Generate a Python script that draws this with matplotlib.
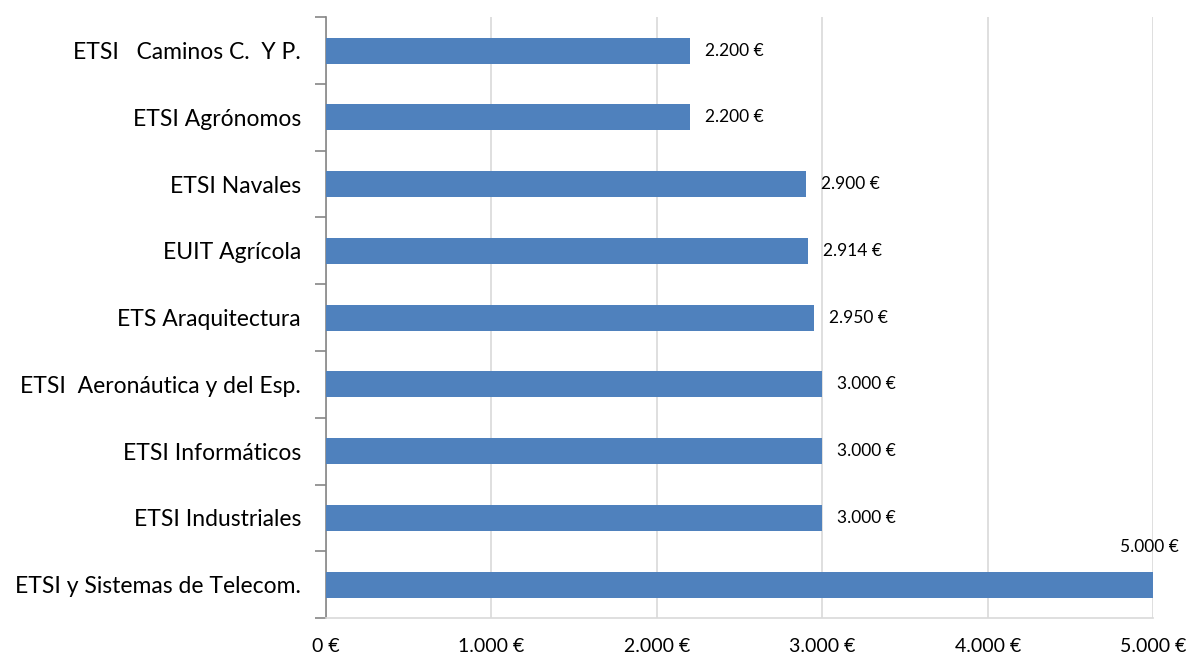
import matplotlib.pyplot as plt
from matplotlib.ticker import FixedLocator, FuncFormatter

# Categories listed top to bottom, as in the chart
schools = [
    "ETSI   Caminos C.  Y P.",
    "ETSI Agrónomos",
    "ETSI Navales",
    "EUIT Agrícola",
    "ETS Araquitectura",
    "ETSI  Aeronáutica y del Esp.",
    "ETSI Informáticos",
    "ETSI Industriales",
    "ETSI y Sistemas de Telecom.",
]
amounts = [2200, 2200, 2900, 2914, 2950, 3000, 3000, 3000, 5000]
x_ticks = [0, 1000, 2000, 3000, 4000, 5000]


def euro(v):
    return f"{int(v):,} €".replace(",", ".")


plt.rcParams['font.family'] = ['Lato', 'DejaVu Sans']

fig = plt.figure(figsize=(11.9, 6.59), dpi=100)
ax = fig.add_axes([0.274, 0.062, 0.695, 0.912])

n = len(schools)
pos = list(range(n - 1, -1, -1))
ax.barh(pos, amounts, height=0.39, color='#4F81BD', zorder=3)

ax.set_xlim(0, 5000)
ax.set_ylim(-0.5, n - 0.5)

# value labels; the widest bar gets its label above the end
for p, v in zip(pos, amounts):
    if v == max(amounts):
        ax.text(v - 25, p + 0.45, euro(v), ha='center', va='bottom', fontsize=12.5)
    else:
        ax.text(v + 90, p, euro(v), ha='left', va='center', fontsize=12.5)

ax.xaxis.set_major_locator(FixedLocator(x_ticks))
ax.xaxis.set_major_formatter(FuncFormatter(lambda v, _: euro(v)))
ax.tick_params(axis='x', length=0, labelsize=14, pad=14)
ax.grid(axis='x', color='#D9D9D9', linewidth=1.2, zorder=0)

ax.set_yticks(pos)
ax.set_yticklabels(schools, fontsize=16.5)
ax.yaxis.set_minor_locator(FixedLocator([i - 0.5 for i in range(n + 1)]))
ax.tick_params(axis='y', which='major', length=0, pad=18)
ax.tick_params(axis='y', which='minor', length=8, color='#868686', width=1.2)

for side in ['top', 'right']:
    ax.spines[side].set_visible(False)
ax.spines['left'].set_color('#868686')
ax.spines['left'].set_linewidth(1.2)
ax.spines['bottom'].set_color('#D9D9D9')
ax.spines['bottom'].set_linewidth(1.2)

fig.savefig('out.png', dpi=100)
